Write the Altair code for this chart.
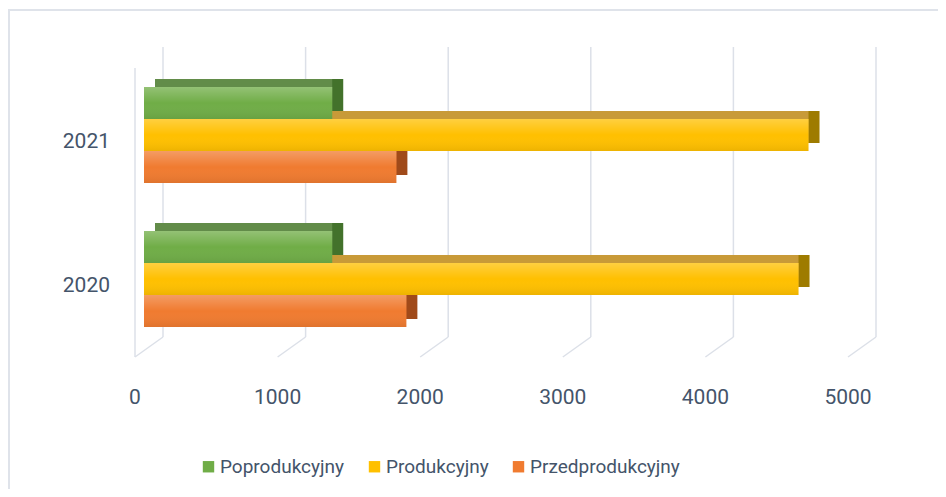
import altair as alt
import pandas as pd

years = ["2020", "2021"]
series = ["Poprodukcyjny", "Produkcyjny", "Przedprodukcyjny"]
poprodukcyjny = [1320, 1320]
produkcyjny = [4590, 4660]
przedprodukcyjny = [1840, 1770]
tick_values = [0, 1000, 2000, 3000, 4000, 5000]

front_colors = ["#70AD47", "#FFC000", "#F07B30"]
top_colors = {"Poprodukcyjny": "#628C49", "Produkcyjny": "#C89A38", "Przedprodukcyjny": "#C4622A"}
side_colors = {"Poprodukcyjny": "#43722B", "Produkcyjny": "#9E7B00", "Przedprodukcyjny": "#A04A1A"}

rows = []
for s, vals in zip(series, [poprodukcyjny, produkcyjny, przedprodukcyjny]):
    for yr, v in zip(years, vals):
        rows.append({"year": yr, "series": s, "value": v, "zero": 0})
df = pd.DataFrame(rows)
ticks = pd.DataFrame({"v": tick_values, "label": [str(t) for t in tick_values]})

FONT = "Roboto"
TXT = "#44546A"
GRID = "#DCE0E8"

xs = alt.Scale(domain=[0, 5000], range=[136, 849])
ys = alt.Scale(domain=["2021", "2020"], range=[55, 343], paddingInner=1 / 3, paddingOuter=1 / 6)
yoff_front = alt.YOffset("series:N", sort=series,
                         scale=alt.Scale(domain=series, range=[0, 96], paddingInner=0, paddingOuter=0))
yoff_back = alt.YOffset("series:N", sort=series,
                        scale=alt.Scale(domain=series, range=[-8, 88], paddingInner=0, paddingOuter=0))

X = alt.X("value:Q", scale=xs, axis=None)
X2 = alt.X2("zero:Q")
Y = alt.Y("year:N", scale=ys, axis=None)

tb = alt.Chart(ticks)
grid = tb.mark_rule(color=GRID, strokeWidth=1.5, xOffset=19, x2Offset=19).encode(
    x=alt.X("v:Q", scale=xs, axis=None), y=alt.value(39), y2=alt.value(329)
)
diag = tb.mark_rule(color=GRID, strokeWidth=1.5, xOffset=-9, x2Offset=19).encode(
    x=alt.X("v:Q", scale=xs, axis=None), x2="v:Q", y=alt.value(349), y2=alt.value(329)
)
wall = tb.transform_filter("datum.v == 0").mark_rule(color=GRID, strokeWidth=1.5, xOffset=-9).encode(
    x=alt.X("v:Q", scale=xs, axis=None), y=alt.value(60), y2=alt.value(349)
)
xlabels = tb.mark_text(font=FONT, fontSize=21, color=TXT, dx=-9, baseline="middle").encode(
    x=alt.X("v:Q", scale=xs, axis=None), y=alt.value(390), text="label:N"
)

base = alt.Chart(df)
back_layers = []
for s in ["Przedprodukcyjny", "Produkcyjny", "Poprodukcyjny"]:
    b = base.transform_filter(alt.datum.series == s)
    back_layers.append(
        b.mark_bar(color=side_colors[s], xOffset=11, x2Offset=11).encode(x=X, x2=X2, y=Y, yOffset=yoff_back)
    )
    back_layers.append(
        b.mark_bar(color=top_colors[s], xOffset=0, x2Offset=11).encode(x=X, x2=X2, y=Y, yOffset=yoff_back)
    )
back = alt.layer(*back_layers)

front = base.mark_bar().encode(
    x=X, x2=X2, y=Y, yOffset=yoff_front,
    color=alt.Color(
        "series:N",
        scale=alt.Scale(domain=series, range=front_colors),
        legend=alt.Legend(
            title=None, orient="none", legendX=191, legendY=449, direction="horizontal",
            symbolType="square", symbolSize=130, symbolStrokeWidth=0, labelFont=FONT,
            labelFontSize=19, labelColor=TXT, columnPadding=20, labelOffset=2,
        ),
    ),
)
shade = base.mark_bar(
    color=alt.Gradient(
        gradient="linear", x1=0, y1=0, x2=0, y2=1,
        stops=[
            alt.GradientStop(color="rgba(255,255,255,0.25)", offset=0),
            alt.GradientStop(color="rgba(255,255,255,0.0)", offset=0.5),
            alt.GradientStop(color="rgba(0,0,0,0.07)", offset=1),
        ],
    )
).encode(x=X, x2=X2, y=Y, yOffset=yoff_front)
fronts = alt.layer(front, shade)

ylabels = alt.Chart(pd.DataFrame({"year": years})).mark_text(
    font=FONT, fontSize=21, color=TXT, align="right", baseline="middle", dy=7
).encode(x=alt.value(102), y=alt.Y("year:N", scale=ys, axis=None), text="year:N")

border_left = tb.transform_filter("datum.v == 0").mark_rule(color="#DFE3EA", strokeWidth=2).encode(
    x=alt.value(1), y=alt.value(2), y2=alt.value(481)
)
border_top = tb.transform_filter("datum.v == 0").mark_rule(color="#DFE3EA", strokeWidth=2).encode(
    x=alt.value(0), x2=alt.value(930), y=alt.value(2)
)

chart = alt.layer(
    border_left, border_top, wall, grid, diag, back, fronts, ylabels, xlabels
).resolve_scale(yOffset="independent").properties(
    width=930, height=481, padding=0, autosize=alt.AutoSizeParams(type="none"),
    background="white",
).configure_view(stroke=None)

chart.save("out.html", embed_options={"renderer": "svg", "actions": False})
